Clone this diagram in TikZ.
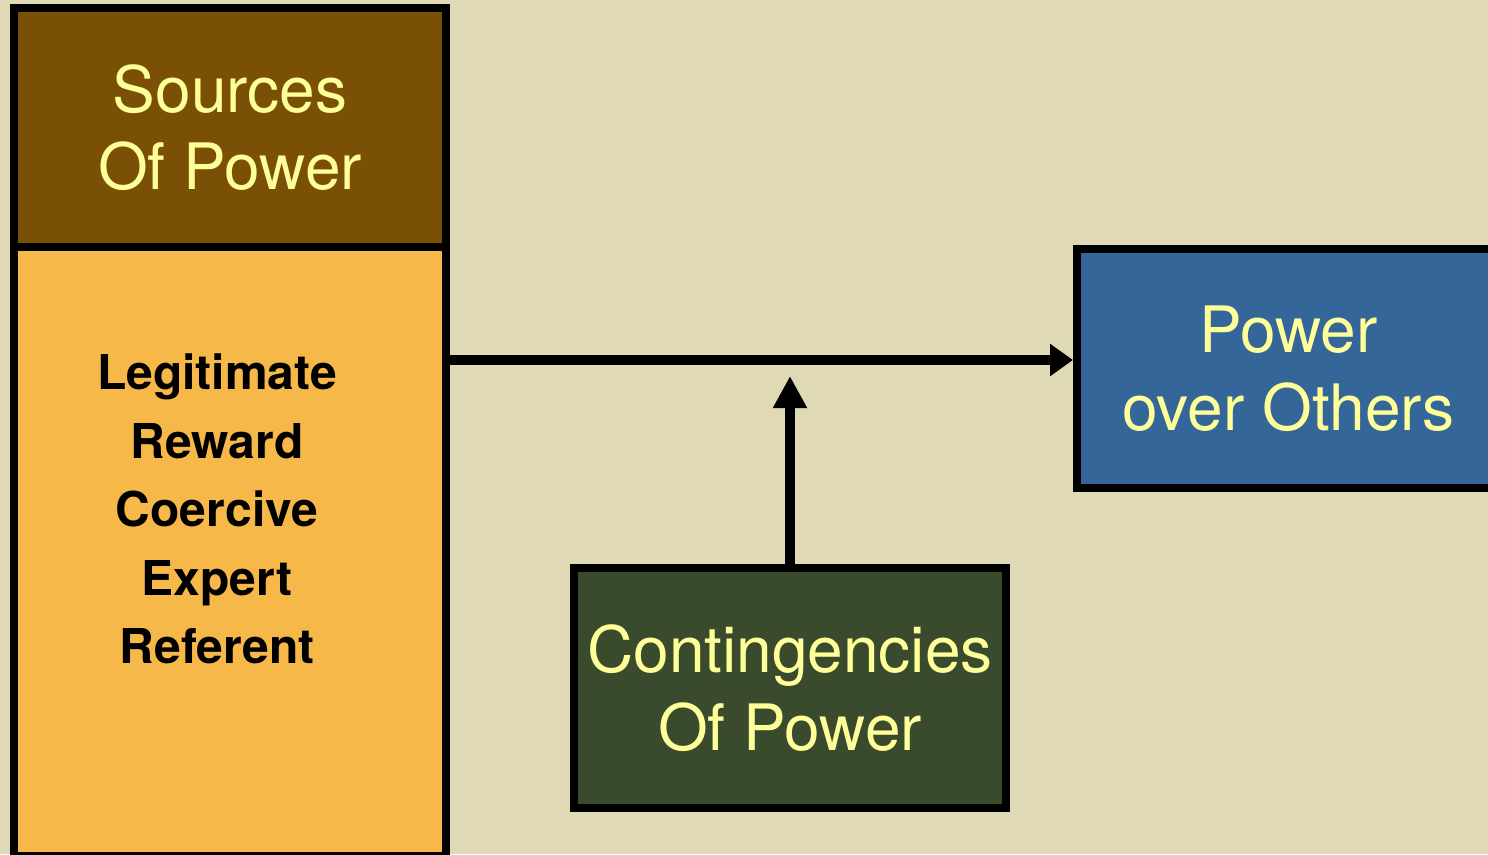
\documentclass[tikz,border=0pt]{standalone}
\usepackage{fontspec}
\setmainfont{TeX Gyre Heros}
\usetikzlibrary{arrows.meta}
\definecolor{bg}{HTML}{E0D9B5}
\definecolor{brownbox}{HTML}{7A5006}
\definecolor{orangebox}{HTML}{F7B84A}
\definecolor{greenbox}{HTML}{3A4A2C}
\definecolor{bluebox}{HTML}{346699}
\definecolor{lighttext}{HTML}{FFFF99}
\begin{document}
\begin{tikzpicture}[x=1pt,y=-1pt,
  box/.style={draw=black, line width=8pt, rectangle, inner sep=0pt, align=center,
    text=lighttext, font=\fontsize{64}{77.5}\selectfont},
  item/.style={anchor=base, inner sep=0pt, font=\fontsize{48}{58}\selectfont\bfseries, text=black},
  conn/.style={line width=10pt, draw=black}
]
\fill[bg] (0,0) rectangle (1488,854);
\useasboundingbox (0,0) rectangle (1488,854);

\node[box, fill=orangebox, minimum width=432pt, minimum height=609pt] (list) at (230,551.5) {};
\node[box, fill=brownbox, minimum width=432pt, minimum height=239pt] (src) at (230,127.5) {Sources\\Of Power};
\node[box, fill=greenbox, minimum width=432pt, minimum height=240pt] (cont) at (790,688) {Contingencies\\Of Power};
\node[box, fill=bluebox, minimum width=423pt, minimum height=239pt] (pow) at (1288.5,368.5) {Power\\over Others};

\node[item] (l1) at (217,389) {Legitimate};
\node[item] (l2) at (217,458) {Reward};
\node[item] (l3) at (217,526.5) {Coercive};
\node[item] (l4) at (217,595) {Expert};
\node[item] (l5) at (217,663.5) {Referent};

\coordinate (hstart) at (446,360);
\coordinate (vend) at (790,376);
\draw[conn, -{Triangle[length=23pt,width=31pt]}] (hstart) -- (hstart -| pow.west);
\draw[conn, -{Triangle[length=32pt,width=32pt]}] (cont.north) -- (vend);
\end{tikzpicture}
\end{document}
